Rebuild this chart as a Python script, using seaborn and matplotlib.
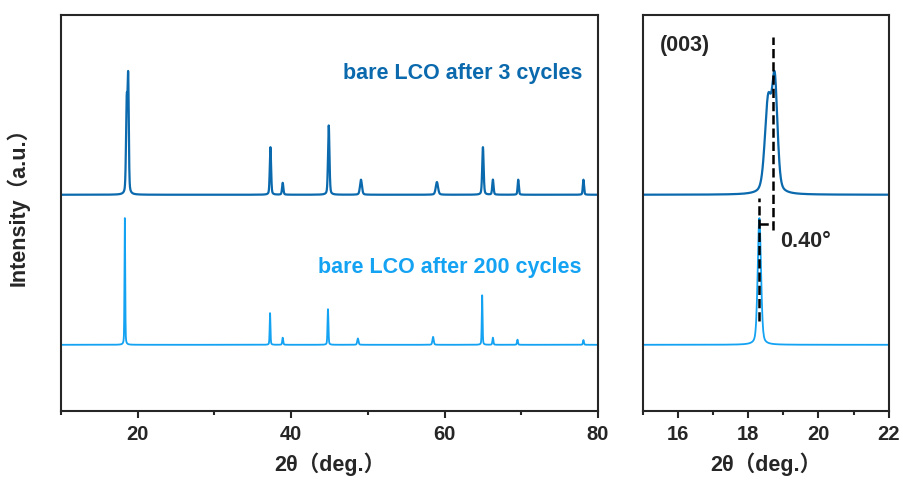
import numpy as np
import pandas as pd
import seaborn as sns
import matplotlib.pyplot as plt

# Peak tables (2theta, height above baseline, FWHM)
pos_3 = [18.57, 18.76, 37.3, 38.9, 44.9, 49.1, 59.0, 65.0, 66.3, 69.6, 78.1]
hgt_3 = [23.0, 27.0, 12.0, 3.0, 17.5, 3.8, 3.2, 12.0, 3.8, 3.8, 3.8]
fwhm_3 = [0.22, 0.18, 0.20, 0.20, 0.22, 0.30, 0.35, 0.22, 0.20, 0.18, 0.18]
base_3 = 54.6

pos_200 = [18.32, 37.25, 38.9, 44.8, 48.7, 58.5, 64.9, 66.3, 69.5, 78.1]
hgt_200 = [32.0, 8.0, 1.8, 9.0, 1.6, 2.0, 12.5, 1.8, 1.3, 1.2]
fwhm_200 = [0.11, 0.12, 0.15, 0.14, 0.20, 0.20, 0.12, 0.15, 0.15, 0.15]
base_200 = 16.7

# (003) shift marker
shift_pos = [18.32, 18.72]
shift_label = "0.40°"

dark_blue = "#0b69ad"
light_blue = "#14a2f2"


def pattern(x, pos, hgt, fwhm, base, eta=0.35):
    y = np.full_like(x, base)
    for c, h, w in zip(pos, hgt, fwhm):
        g = np.exp(-4 * np.log(2) * ((x - c) / w) ** 2)
        l = 1 / (1 + 4 * ((x - c) / w) ** 2)
        y += h * ((1 - eta) * g + eta * l)
    return y


tt = np.arange(10, 80.001, 0.01)
df3 = pd.DataFrame({"tt": tt, "I": pattern(tt, pos_3, hgt_3, fwhm_3, base_3)})
df200 = pd.DataFrame({"tt": tt, "I": pattern(tt, pos_200, hgt_200, fwhm_200, base_200)})

sns.set_style("ticks")
plt.rcParams["font.family"] = ["Liberation Sans", "Noto Sans CJK SC"]
plt.rcParams["font.weight"] = "bold"
plt.rcParams["axes.linewidth"] = 1.5

fig = plt.figure(figsize=(9.04, 4.84), dpi=100)
ax1 = fig.add_axes([0.0675, 0.151, 0.594, 0.818])
ax2 = fig.add_axes([0.711, 0.151, 0.272, 0.818])

for ax in (ax1, ax2):
    sns.lineplot(data=df3, x="tt", y="I", color=dark_blue, estimator=None,
                 sort=False, lw=1.6, ax=ax)
    sns.lineplot(data=df200, x="tt", y="I", color=light_blue, estimator=None,
                 sort=False, lw=1.3, ax=ax)
    ax.set_ylim(0, 100)
    ax.set_yticks([])
    ax.set_ylabel("")
    ax.set_xlabel("2θ（deg.）", fontsize=15.5, fontweight="bold", labelpad=6)
    ax.tick_params(axis="x", which="major", direction="out", length=5, width=1.5,
                   labelsize=14.5, pad=5)
    ax.tick_params(axis="x", which="minor", direction="out", length=3, width=1.5)

ax1.set_xlim(10, 80)
ax1.set_xticks([20, 40, 60, 80])
ax1.set_xticks([10, 30, 50, 70], minor=True)
ax2.set_xlim(15, 22)
ax2.set_xticks([16, 18, 20, 22])
ax2.set_xticks([15, 17, 19, 21], minor=True)
for ax in (ax1, ax2):
    for lab in ax.get_xticklabels():
        lab.set_fontweight("bold")

ax1.set_ylabel("Intensity（a.u.）", fontsize=15.5, fontweight="bold")
ax1.yaxis.set_label_coords(-0.058, 0.53)

ax1.text(77.9, 85.3, "bare LCO after 3 cycles", color=dark_blue, fontsize=15.5,
         fontweight="bold", ha="right", va="center")
ax1.text(77.9, 36.2, "bare LCO after 200 cycles", color=light_blue, fontsize=15.5,
         fontweight="bold", ha="right", va="center")

ax2.text(15.5, 92.4, "(003)", fontsize=15.5, fontweight="bold", ha="left", va="center")
ax2.plot([shift_pos[1], shift_pos[1]], [45.6, 94.4], ls="--", color="black", lw=1.8)
ax2.plot([shift_pos[0], shift_pos[0]], [22.8, 53.9], ls="--", color="black", lw=1.8)
ax2.plot(shift_pos, [47.1, 47.1], ls="--", color="black", lw=1.8)
ax2.text(18.92, 42.8, shift_label, fontsize=15.5, fontweight="bold", ha="left", va="center")

fig.savefig("out.png", dpi=100)
